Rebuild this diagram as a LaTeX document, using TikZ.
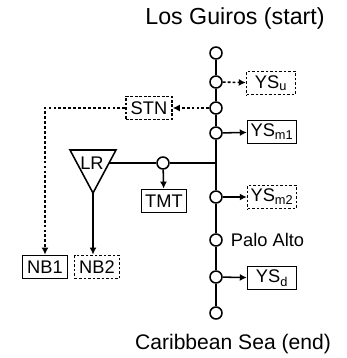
\documentclass[tikz,border=0pt]{standalone}
\usepackage{fontspec}
\setmainfont{Liberation Sans}
\usetikzlibrary{arrows.meta}
\tikzset{
  stopdot/.style={draw,line width=1.1pt,circle,fill=white,inner sep=0pt,minimum size=0.3cm},
  gauge/.style={draw,line width=1.1pt,minimum width=1.22cm,minimum height=0.58cm,inner sep=1pt,font=\fontsize{13}{15}\selectfont},
  gaugedash/.style={gauge,dash pattern=on 2pt off 1.2pt},
  flow/.style={line width=1.1pt,-{Latex[length=5pt,width=5pt]}},
  flowdash/.style={flow,dash pattern=on 2pt off 1.5pt}
}
\begin{document}
\begin{tikzpicture}[x=0.025cm,y=-0.025cm]
\useasboundingbox (0,0) rectangle (347,358);
% river ends
\node[font=\fontsize{16.5}{18}\selectfont] (top) at (235,18) {Los Guiros (start)};
\node[font=\fontsize{15}{18}\selectfont] (bot) at (233,344) {Caribbean Sea (end)};
% stations on the main stem
\foreach \n/\y in {1/53,2/82,3/108,4/133,5/197,6/240,7/277,8/313}
  \node[stopdot] (s\n) at (216,\y) {};
\coordinate (j) at (216,163);
\node[anchor=west,font=\fontsize{13}{16}\selectfont] (palo) at (226,240) {Palo Alto};
% gauges
\node[gaugedash] (ysu) at (271,83) {YS\textsubscript{u}};
\node[gauge] (ysm1) at (272,132) {YS\textsubscript{m1}};
\node[gaugedash] (ysm2) at (272,197) {YS\textsubscript{m2}};
\node[gauge] (ysd) at (272,278) {YS\textsubscript{d}};
\node[gaugedash,minimum width=1.15cm] (stn) at (149,108) {STN};
\node[gauge,minimum width=1.12cm] (tmt) at (164,201) {TMT};
\node[gauge,minimum width=1.12cm] (nb1) at (45,267) {NB1};
\node[gaugedash,minimum width=1.12cm] (nb2) at (97,267) {NB2};
% LR tributary
\coordinate (lra) at (70,150); \coordinate (lrb) at (116,150); \coordinate (lrtip) at (93,193);
\coordinate (lrside) at (109,163);
\draw[line width=1.1pt] (lra) -- (lrb) -- (lrtip) -- cycle;
\node[font=\fontsize{13}{15}\selectfont] (lr) at (92,163) {LR};
\node[stopdot] (t) at (163,163) {};
% connections
\draw[line width=1.1pt] (s1) -- (s2) -- (s3) -- (s4) -- (j) -- (s5) -- (s6) -- (s7) -- (s8);
\draw[line width=1.1pt] (j) -- (t) -- (lrside);
\draw[flowdash] (s2) -- (ysu);
\draw[flowdash] (s3) -- (stn);
\draw[flow] (s4) -- (ysm1);
\draw[flow] (s5) -- (ysm2);
\draw[flow] (s7) -- (ysd);
\draw[flow] (t) -- (tmt);
\draw[flowdash] (stn.west) -| (nb1.north);
\draw[flow] (lrtip) -- (lrtip |- nb2.north);
\end{tikzpicture}
\end{document}
